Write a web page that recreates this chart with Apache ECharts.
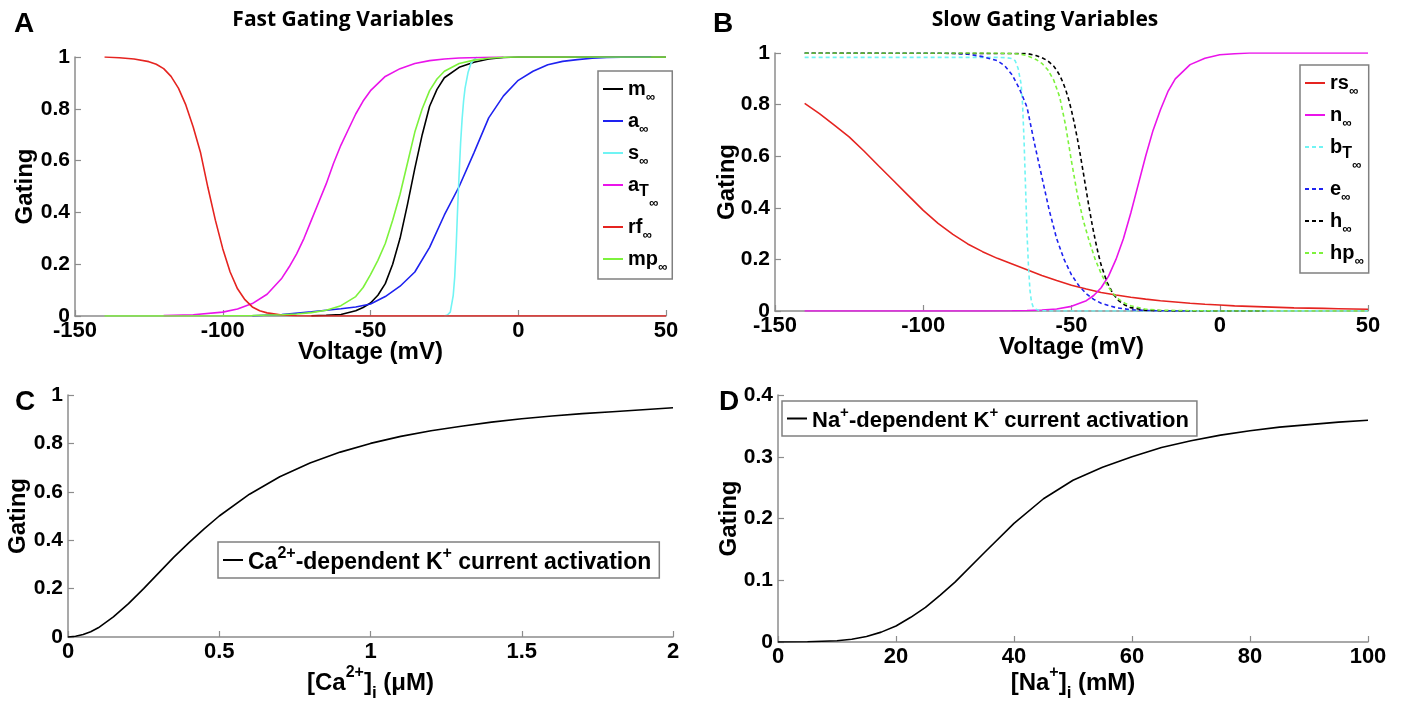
<!DOCTYPE html>
<html><head><meta charset="utf-8">
<script src="https://cdn.jsdelivr.net/npm/echarts@6/dist/echarts.min.js"></script>
<style>html,body{margin:0;padding:0;background:#fff}#c{width:1404px;height:701px}</style>
</head><body><div id="c"></div>
<script>
// ---------- Panel A: Fast gating variables (Voltage mV -> gating) ----------
const mX  = [-70,-65,-60,-55,-52.5,-50,-47.5,-45,-42.5,-40,-37.5,-35,-32.5,-30,-27.5,-25,-20,-15,-10,-5,0,50];
const mY  = [0.001,0.003,0.006,0.02,0.033,0.05,0.08,0.125,0.2,0.3,0.43,0.57,0.70,0.81,0.875,0.92,0.96,0.98,0.992,0.998,1,1];
const aX  = [-90,-80,-70,-65,-60,-55,-50,-45,-40,-35,-30,-25,-20,-15,-10,-5,0,5,10,15,20,25,30,35,40,45];
const aY  = [0.001,0.006,0.016,0.022,0.028,0.035,0.046,0.075,0.115,0.17,0.265,0.39,0.5,0.63,0.765,0.85,0.91,0.945,0.97,0.983,0.99,0.995,0.998,0.999,1,1];
const sX  = [-25,-24,-23,-22,-21.5,-21,-20.5,-20,-19.5,-19,-18.5,-18,-17,-16,-15,-14];
const sY  = [0,0.004,0.015,0.08,0.15,0.27,0.42,0.55,0.67,0.76,0.83,0.88,0.94,0.975,0.99,1];
const aTX = [-120,-110,-100,-95,-90,-85,-80,-77.5,-75,-72.5,-70,-67.5,-65,-62.5,-60,-57.5,-55,-52.5,-50,-45,-40,-35,-30,-25,-20,-10,-5];
const aTY = [0.0014,0.0046,0.015,0.027,0.048,0.084,0.146,0.19,0.24,0.30,0.37,0.44,0.51,0.59,0.66,0.72,0.78,0.83,0.87,0.925,0.955,0.975,0.986,0.992,0.996,0.999,1];
const rfX = [-140,-135,-130,-125,-122.5,-120,-117.5,-115,-112.5,-110,-107.5,-105,-102.5,-100,-97.5,-95,-92.5,-90,-87.5,-85,-80,-75,-70,50];
const rfY = [1,0.997,0.992,0.982,0.972,0.955,0.925,0.88,0.815,0.73,0.63,0.495,0.37,0.26,0.17,0.105,0.063,0.035,0.02,0.012,0.004,0.001,0,0];
const mpX = [-140,-120,-100,-90,-80,-75,-70,-65,-60,-55,-52.5,-50,-47.5,-45,-42.5,-40,-37.5,-35,-32.5,-30,-27.5,-25,-20,-15,-10,-5,0,50];
const mpY = [0,0,0.001,0.002,0.005,0.008,0.013,0.022,0.04,0.075,0.11,0.16,0.215,0.28,0.37,0.47,0.59,0.71,0.80,0.87,0.915,0.945,0.975,0.988,0.995,0.999,1,1];

// ---------- Panel B: Slow gating variables ----------
const rsX = [-140,-135,-130,-125,-120,-115,-110,-105,-100,-95,-90,-85,-80,-75,-70,-65,-60,-55,-50,-45,-40,-35,-30,-25,-20,-15,-10,-5,0,5,10,15,20,25,30,35,40,45,50];
const rsY = [0.805,0.765,0.72,0.675,0.62,0.562,0.505,0.447,0.39,0.34,0.297,0.26,0.23,0.204,0.182,0.16,0.138,0.118,0.1,0.085,0.072,0.062,0.053,0.046,0.04,0.035,0.03,0.026,0.023,0.02,0.018,0.016,0.014,0.012,0.011,0.01,0.009,0.008,0.007];
const nX  = [-140,-100,-80,-70,-65,-60,-55,-50,-45,-42.5,-40,-37.5,-35,-32.5,-30,-27.5,-25,-22.5,-20,-17.5,-15,-10,-5,0,5,10,50];
const nY  = [0,0,0,0.001,0.002,0.004,0.008,0.018,0.04,0.06,0.09,0.135,0.2,0.28,0.38,0.49,0.6,0.7,0.78,0.85,0.9,0.955,0.98,0.993,0.997,1,1];
const bTX = [-140,-75,-72,-70,-69,-68,-67,-66.5,-66,-65.5,-65,-64.5,-64,-63.5,-63,-62,-61,-60,-55,50];
const bTY = [0.983,0.983,0.982,0.978,0.97,0.94,0.88,0.8,0.66,0.48,0.3,0.17,0.08,0.035,0.018,0.007,0.003,0.001,0,0];
const eX  = [-140,-100,-90,-85,-80,-75,-72.5,-70,-67.5,-65,-62.5,-60,-57.5,-55,-52.5,-50,-47.5,-45,-42.5,-40,-35,-30,-25,-20,-15,-10];
const eY  = [1,1,0.999,0.995,0.986,0.97,0.95,0.915,0.86,0.79,0.65,0.52,0.39,0.28,0.2,0.14,0.098,0.067,0.045,0.03,0.013,0.005,0.002,0.001,0,0];
const hX  = [-140,-65,-62,-60,-58,-56,-55,-54,-53,-52,-51,-50,-49,-48,-47,-46,-45,-44,-43,-42,-41,-40,-38,-36,-34,-32,-30,-25,-20,-10,15];
const hY  = [1,0.998,0.99,0.982,0.97,0.949,0.933,0.914,0.889,0.859,0.822,0.777,0.725,0.667,0.603,0.535,0.465,0.397,0.333,0.275,0.223,0.178,0.111,0.067,0.039,0.023,0.013,0.003,0.001,0,0];
const hpX = [-140,-75,-70,-67,-65,-62,-60,-58,-56,-54,-52,-50,-48,-46,-44,-42,-40,-38,-36,-34,-32,-30,-25,-20,-10,0,50];
const hpY = [1,1,0.998,0.995,0.99,0.975,0.96,0.935,0.895,0.83,0.72,0.58,0.45,0.35,0.27,0.2,0.145,0.1,0.068,0.045,0.03,0.02,0.007,0.003,0.001,0,0];

// ---------- Panel C: Ca-dependent K activation ----------
const caX = [0,0.025,0.05,0.075,0.1,0.15,0.2,0.25,0.3,0.35,0.4,0.45,0.5,0.6,0.7,0.8,0.9,1.0,1.1,1.2,1.3,1.4,1.5,1.6,1.7,1.8,1.9,2.0];
const caY = [0,0.003,0.01,0.022,0.038,0.083,0.138,0.2,0.265,0.33,0.39,0.447,0.5,0.59,0.662,0.719,0.764,0.8,0.829,0.852,0.871,0.888,0.902,0.913,0.923,0.931,0.939,0.947];

// ---------- Panel D: Na-dependent K activation ----------
const naX = [0,5,10,12.5,15,17.5,20,22.5,25,27.5,30,35,40,45,50,55,60,65,70,75,80,85,90,95,100];
const naY = [0,0.0003,0.002,0.0045,0.009,0.016,0.026,0.04,0.056,0.076,0.097,0.145,0.192,0.232,0.262,0.283,0.3,0.315,0.326,0.335,0.342,0.348,0.352,0.356,0.359];

// tick settings
const xTicksV = [-150, 50, 50];   // min, max, interval (A & B)
const xTicksCa = [0, 2, 0.5];
const xTicksNa = [0, 100, 20];
const yTicks1 = [0, 1, 0.2];
const yTicksNa = [0, 0.4, 0.1];

const F = "'Liberation Sans', Arial, sans-serif";
const TF = "'Open Sans', 'Liberation Sans', sans-serif";
const AX = '#8c8c8c';

function pairs(xs, ys){ return xs.map((x,i)=>[x, ys[i]]); }
function line(name, xs, ys, color, dashed, gi){
  return {type:'line', name, xAxisIndex:gi, yAxisIndex:gi, data:pairs(xs,ys),
    symbol:'none', showSymbol:false, smooth:false, silent:true, animation:false,
    lineStyle:{color, width:1.6, type: dashed ? [4,3] : 'solid'}, itemStyle:{color}};
}
function xAxis(gi, t, name, gap){
  return {type:'value', gridIndex:gi, min:t[0], max:t[1], interval:t[2],
    axisLine:{show:true, onZero:false, lineStyle:{color:AX, width:1.5}},
    axisTick:{show:true, inside:true, length:6, lineStyle:{color:AX, width:1.2}},
    splitLine:{show:false},
    axisLabel:{color:'#000', fontFamily:F, fontWeight:'bold', fontSize:22, margin:4},
    name, nameLocation:'middle', nameGap:gap, nameMoveOverlap:false,
    nameTextStyle:{color:'#000', fontFamily:F, fontWeight:'bold', fontSize:24, rich:axRich}};
}
function yAxis(gi, t, gap){
  return {type:'value', gridIndex:gi, min:t[0], max:t[1], interval:t[2],
    axisLine:{show:true, onZero:false, lineStyle:{color:AX, width:1.5}},
    axisTick:{show:true, inside:true, length:6, lineStyle:{color:AX, width:1.2}},
    splitLine:{show:false},
    axisLabel:{color:'#000', fontFamily:F, fontWeight:'bold', fontSize:21, margin:5,
      formatter:v=>String(+v.toFixed(2))},
    name:'Gating', nameLocation:'middle', nameGap:gap, nameRotate:90, nameMoveOverlap:false,
    nameTextStyle:{color:'#000', fontFamily:F, fontWeight:'bold', fontSize:24}};
}
const axRich = {
  b:{fontFamily:F, fontWeight:'bold', fontSize:24, color:'#000', verticalAlign:'top', padding:[6,0,0,0]},
  sup:{fontFamily:F, fontWeight:'bold', fontSize:16, color:'#000', verticalAlign:'top'},
  sub:{fontFamily:F, fontWeight:'bold', fontSize:17, color:'#000', verticalAlign:'top', padding:[20,0,0,0]}
};
const legRich = {
  b:{fontFamily:F, fontWeight:'bold', fontSize:20, color:'#000', verticalAlign:'top', lineHeight:20},
  s:{fontFamily:F, fontWeight:'bold', fontSize:13, color:'#000', verticalAlign:'top', lineHeight:20, padding:[12,0,0,0]},
  t:{fontFamily:F, fontWeight:'bold', fontSize:16, color:'#000', verticalAlign:'top', lineHeight:20, padding:[9,0,0,0]},
  s2:{fontFamily:F, fontWeight:'bold', fontSize:13, color:'#000', verticalAlign:'top', lineHeight:20, padding:[22,0,0,0]}
};
function bigRich(fs){
  return {
    b:{fontFamily:F, fontWeight:'bold', fontSize:fs, color:'#000', verticalAlign:'top', padding:[5,0,0,0]},
    sup:{fontFamily:F, fontWeight:'bold', fontSize:Math.round(fs*0.68), color:'#000', verticalAlign:'top'}
  };
}
const legLabels = {
  'm∞':'{b|m}{s|∞}', 'a∞':'{b|a}{s|∞}', 's∞':'{b|s}{s|∞}', 'aT∞':'{b|a}{t|T}{s2|∞}', 'rf∞':'{b|rf}{s|∞}', 'mp∞':'{b|mp}{s|∞}',
  'rs∞':'{b|rs}{s|∞}', 'n∞':'{b|n}{s|∞}', 'bT∞':'{b|b}{t|T}{s2|∞}', 'e∞':'{b|e}{s|∞}', 'h∞':'{b|h}{s|∞}', 'hp∞':'{b|hp}{s|∞}',
  'Ca':'{b|Ca}{sup|2+}{b|-dependent K}{sup|+}{b| current activation}',
  'Na':'{b|Na}{sup|+}{b|-dependent K}{sup|+}{b| current activation}'
};
function legend(data, left, top, gap, rich, pad){
  return {data, left, top, orient:'vertical', itemGap:gap, itemWidth:20, itemHeight:14, selectedMode:false,
    backgroundColor:'#fff', borderColor:'#808080', borderWidth:1.5, borderRadius:0, padding:pad,
    itemStyle:{opacity:0}, formatter:n=>legLabels[n], textStyle:{rich}};
}

const option = {
  animation:false,
  backgroundColor:'#fff',
  title:[
    {text:'A', left:9, top:5, textStyle:{fontFamily:F, fontWeight:'bold', fontSize:28, color:'#000'}},
    {text:'Fast Gating Variables', left:338, top:5, textAlign:'center', textStyle:{fontFamily:TF, fontWeight:'bold', fontSize:21, color:'#000'}},
    {text:'B', left:708, top:5, textStyle:{fontFamily:F, fontWeight:'bold', fontSize:28, color:'#000'}},
    {text:'Slow Gating Variables', left:1040, top:5, textAlign:'center', textStyle:{fontFamily:TF, fontWeight:'bold', fontSize:21, color:'#000'}},
    {text:'C', left:10, top:383, textStyle:{fontFamily:F, fontWeight:'bold', fontSize:28, color:'#000'}},
    {text:'D', left:714, top:383, textStyle:{fontFamily:F, fontWeight:'bold', fontSize:28, color:'#000'}}
  ],
  grid:[
    {left:75, top:57, width:591, height:259, outerBoundsMode:'none'},
    {left:775, top:53, width:593, height:258, outerBoundsMode:'none'},
    {left:68, top:395, width:605, height:242, outerBoundsMode:'none'},
    {left:778, top:395, width:590, height:247, outerBoundsMode:'none'}
  ],
  xAxis:[
    xAxis(0, xTicksV, 'Voltage (mV)', 24),
    xAxis(1, xTicksV, 'Voltage (mV)', 24),
    xAxis(2, xTicksCa, '{b|[Ca}{sup|2+}{b|]}{sub|i}{b| (μM)}', 28),
    xAxis(3, xTicksNa, '{b|[Na}{sup|+}{b|]}{sub|i}{b| (mM)}', 23)
  ],
  yAxis:[
    yAxis(0, yTicks1, 38), yAxis(1, yTicks1, 36), yAxis(2, yTicks1, 38), yAxis(3, yTicksNa, 37)
  ],
  legend:[
    legend(['m∞','a∞','s∞','aT∞','rf∞','mp∞'], 598, 71, 7, legRich, [8,5,5,4]),
    legend(['rs∞','n∞','bT∞','e∞','h∞','hp∞'], 1300, 65, 7, legRich, [8,5,5,4]),
    legend(['Ca'], 218, 542, 0, bigRich(23), [4,8,4,4]),
    legend(['Na'], 782, 401, 0, bigRich(22), [4,8,4,4])
  ],
  series:[
    line('m∞', mX, mY, '#000000', false, 0),
    line('a∞', aX, aY, '#1e22f0', false, 0),
    line('s∞', sX, sY, '#70f4f4', false, 0),
    line('aT∞', aTX, aTY, '#ea14ea', false, 0),
    line('rf∞', rfX, rfY, '#e52420', false, 0),
    line('mp∞', mpX, mpY, '#7df23c', false, 0),
    line('rs∞', rsX, rsY, '#e52420', false, 1),
    line('n∞', nX, nY, '#ea14ea', false, 1),
    line('bT∞', bTX, bTY, '#70f4f4', true, 1),
    line('e∞', eX, eY, '#1e22f0', true, 1),
    line('h∞', hX, hY, '#000000', true, 1),
    line('hp∞', hpX, hpY, '#7df23c', true, 1),
    line('Ca', caX, caY, '#000000', false, 2),
    line('Na', naX, naY, '#000000', false, 3)
  ]
};
const chart = echarts.init(document.getElementById('c'), null, {renderer:'canvas'});
chart.setOption(option);
</script></body></html>
